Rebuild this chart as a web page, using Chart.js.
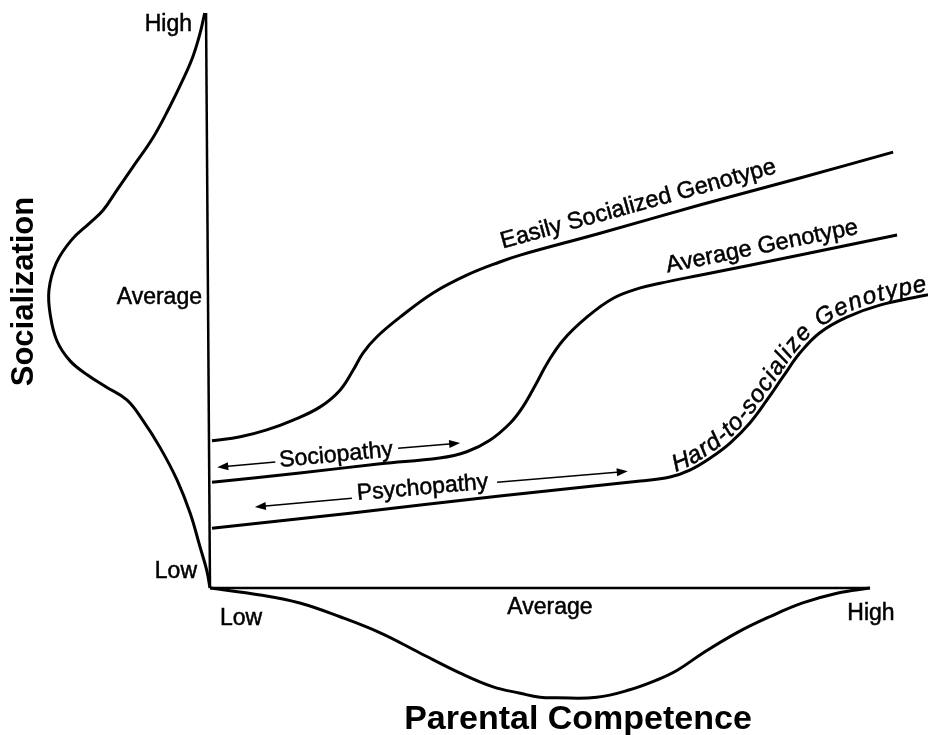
<!DOCTYPE html>
<html><head><meta charset="utf-8">
<script src="https://cdn.jsdelivr.net/npm/chart.js@4"></script>
<style>html,body{margin:0;padding:0;background:#fff}canvas{display:block}</style>
</head><body>
<canvas id="c" width="928" height="735"></canvas>
<script>
// ---------------- DATA ----------------
// x: Parental Competence (0 = Low, 50 = Average, 100 = High)
// y: Socialization       (0 = Low, 50 = Average, 100 = High)
const levelLabels = ['Low', 'Average', 'High'];
const levelValues = [0, 50, 100];

// Easily Socialized Genotype
const easyX = [0.3, 4.6, 8.6, 12.6, 16.7, 19.7, 21.7, 23.2, 25.3, 28.8, 33.8, 38.9, 43.9, 47.0, 59.1, 74.2, 89.4, 103.5];
const easyY = [25.6, 26.3, 27.5, 29.2, 31.5, 34.4, 37.9, 40.9, 43.7, 47.1, 51.3, 54.4, 56.7, 57.9, 61.7, 66.6, 71.3, 75.8];

// Average Genotype
const avgX = [0.3, 13.6, 25.8, 34.8, 38.9, 42.4, 45.5, 47.4, 49.5, 51.1, 53.5, 57.1, 61.1, 65.2, 68.2, 74.2, 89.4, 104.1];
const avgY = [18.4, 20.0, 21.6, 22.6, 23.7, 25.7, 28.7, 31.5, 35.7, 39.1, 43.1, 47.1, 50.4, 52.2, 53.0, 54.4, 57.9, 61.4];

// Hard-to-socialize Genotype
const hardX = [0.3, 21.2, 43.9, 65.2, 69.7, 72.7, 75.8, 78.8, 81.8, 84.4, 86.8, 89.4, 92.4, 96.5, 101.5, 108.8];
const hardY = [10.4, 13.0, 16.0, 18.6, 19.3, 20.5, 22.6, 25.2, 28.7, 32.7, 36.7, 40.9, 44.4, 47.1, 49.2, 51.0];

// Distribution of Socialization (drawn to the left of the vertical axis; x = -density)
const socDistY = [100, 96.5, 92.4, 88.4, 83.7, 78.4, 73.2, 69.2, 65.7, 63.5, 60.5, 56.5, 51.8, 47.5, 43.0, 39.5, 37.0, 35.0, 32.7, 29.2, 24.5, 18.8, 13.0, 7.1, 3.1, 0];
const socDistX = [-0.8, -1.5, -2.6, -4.1, -6.1, -8.6, -11.7, -14.1, -16.2, -18.2, -21.0, -23.3, -24.4, -24.2, -23.2, -21.2, -18.5, -15.8, -12.6, -10.2, -7.6, -5.0, -3.0, -1.5, -0.5, 0];

// Distribution of Parental Competence (drawn below the horizontal axis; y = -density)
const parDistX = [0, 7.6, 13.6, 19.7, 25.8, 31.8, 37.9, 42.9, 47.0, 50.0, 52.6, 58.6, 63.6, 67.7, 70.8, 74.7, 79.8, 84.8, 89.8, 95.0, 100];
const parDistY = [0, -1.2, -2.6, -5.0, -7.8, -11.3, -14.8, -17.2, -18.3, -19.0, -19.1, -19.0, -17.7, -16.0, -14.3, -11.3, -7.8, -5.0, -2.6, -0.9, 0];

// Axis lines
const xAxisX = [0, 100];  const xAxisY = [0, 0];
const yAxisX = [0, -0.6]; const yAxisY = [0, 100];

// Range annotations (arrows) in data units
const sociopathyLeft  = [[9.9, 21.9], [1.1, 21.0]];
const sociopathyRight = [[28.5, 24.3], [37.9, 25.2]];
const psychopathyLeft  = [[21.5, 15.6], [6.8, 14.1]];
const psychopathyRight = [[43.5, 18.4], [63.3, 20.3]];

// ---------------- LAYOUT / STYLE ----------------
const FONT = '"Liberation Sans", Arial, Helvetica, sans-serif';
const toPts = (xs, ys) => xs.map((x, i) => ({x, y: ys[i]}));

const curveStyle = {showLine: true, pointRadius: 0, borderColor: '#000', backgroundColor: '#000', fill: false};

const labelsPlugin = {
  id: 'labels',
  afterDatasetsDraw(chart) {
    const ctx = chart.ctx;
    const sx = chart.scales.x, sy = chart.scales.y;
    const px = v => sx.getPixelForValue(v), py = v => sy.getPixelForValue(v);
    ctx.save();
    ctx.fillStyle = '#000'; ctx.strokeStyle = '#000';
    const txt = (s, x, y) => { ctx.lineWidth = 0.5; ctx.fillText(s, x, y); ctx.strokeText(s, x, y); };

    // y-axis level labels
    ctx.font = '23px ' + FONT;
    ctx.textAlign = 'right'; ctx.textBaseline = 'alphabetic';
    const yOff = [-10, 3, 18];
    const yRight = [197, 202, 192];
    levelValues.forEach((v, i) => txt(levelLabels[i], px(0) - (210 - yRight[i]), py(v) + yOff[i]));
    // x-axis level labels
    const xBase = [37, 26, 32];
    ctx.textAlign = 'left';   txt(levelLabels[0], px(0) + 10, py(0) + xBase[0]);
    ctx.textAlign = 'center'; txt(levelLabels[1], px(50) + 10, py(0) + xBase[1]);
    ctx.textAlign = 'center'; txt(levelLabels[2], px(100) + 1, py(0) + xBase[2]);

    // axis titles
    ctx.font = 'bold 34px ' + FONT;
    ctx.textAlign = 'center';
    ctx.fillText('Parental Competence', px(50) + 38, py(0) + 141);
    ctx.save();
    ctx.font = 'bold 31px ' + FONT;
    ctx.translate(px(0) - 177, py(50) - 9);
    ctx.rotate(-Math.PI / 2);
    ctx.fillText('Socialization', 0, 0);
    ctx.restore();

    // arrows
    const arrow = (seg) => {
      const [a, b] = seg;
      const x1 = px(a[0]), y1 = py(a[1]), x2 = px(b[0]), y2 = py(b[1]);
      const ang = Math.atan2(y2 - y1, x2 - x1);
      ctx.lineWidth = 1.5;
      ctx.beginPath(); ctx.moveTo(x1, y1);
      ctx.lineTo(x2 - 8 * Math.cos(ang), y2 - 8 * Math.sin(ang)); ctx.stroke();
      ctx.beginPath();
      ctx.moveTo(x2, y2);
      ctx.lineTo(x2 - 11 * Math.cos(ang) + 4 * Math.sin(ang), y2 - 11 * Math.sin(ang) - 4 * Math.cos(ang));
      ctx.lineTo(x2 - 11 * Math.cos(ang) - 4 * Math.sin(ang), y2 - 11 * Math.sin(ang) + 4 * Math.cos(ang));
      ctx.closePath(); ctx.fill();
    };
    [sociopathyLeft, sociopathyRight, psychopathyLeft, psychopathyRight].forEach(arrow);

    const rotText = (s, x, y, angDeg, font) => {
      ctx.save(); ctx.font = font; ctx.textAlign = 'center'; ctx.textBaseline = 'alphabetic';
      ctx.translate(x, y); ctx.rotate(angDeg * Math.PI / 180); txt(s, 0, 0); ctx.restore();
    };
    rotText('Sociopathy', px(19.2), py(22.0), -5.5, '23px ' + FONT);
    rotText('Psychopathy', px(32.3), py(16.3), -5, '23px ' + FONT);

    // labels along straight part of curves
    const alongLine = (xs, ys, i0, i1, cx, off, s, font) => {
      const x1 = px(xs[i0]), y1 = py(ys[i0]), x2 = px(xs[i1]), y2 = py(ys[i1]);
      const ang = Math.atan2(y2 - y1, x2 - x1);
      const X = px(cx), t = (X - x1) / (x2 - x1), Y = y1 + t * (y2 - y1);
      ctx.save(); ctx.font = font; ctx.textAlign = 'center'; ctx.textBaseline = 'alphabetic';
      ctx.translate(X, Y); ctx.rotate(ang); txt(s, 0, -off); ctx.restore();
    };
    alongLine(easyX, easyY, 13, 17, 65.6, 11, 'Easily Socialized Genotype', '23.5px ' + FONT);
    alongLine(avgX, avgY, 15, 17, 84.1, 9, 'Average Genotype', '23.5px ' + FONT);

    // text on the curved Hard-to-socialize line
    const meta = chart.getDatasetMeta(2);
    const pts = meta.data;
    const path = [];
    for (let i = 0; i < pts.length - 1; i++) {
      const a = pts[i], b = pts[i + 1];
      const c1x = a.cp2x ?? a.x, c1y = a.cp2y ?? a.y, c2x = b.cp1x ?? b.x, c2y = b.cp1y ?? b.y;
      for (let k = 0; k < 30; k++) {
        const t = k / 30, u = 1 - t;
        path.push([
          u*u*u*a.x + 3*u*u*t*c1x + 3*u*t*t*c2x + t*t*t*b.x,
          u*u*u*a.y + 3*u*u*t*c1y + 3*u*t*t*c2y + t*t*t*b.y]);
      }
    }
    path.push([pts[pts.length - 1].x, pts[pts.length - 1].y]);
    const cum = [0];
    for (let i = 1; i < path.length; i++) cum.push(cum[i - 1] + Math.hypot(path[i][0] - path[i - 1][0], path[i][1] - path[i - 1][1]));
    const atLen = s => {
      let i = 1; while (i < cum.length - 1 && cum[i] < s) i++;
      const t = (s - cum[i - 1]) / ((cum[i] - cum[i - 1]) || 1);
      return [path[i - 1][0] + t * (path[i][0] - path[i - 1][0]), path[i - 1][1] + t * (path[i][1] - path[i - 1][1])];
    };
    const lenAtX = X => { let i = 0; while (i < path.length - 1 && path[i][0] < X) i++; return cum[i]; };
    const label = 'Hard-to-socialize Genotype';
    ctx.font = 'italic 24px ' + FONT;
    ctx.textAlign = 'center'; ctx.textBaseline = 'alphabetic';
    const chars = [...label];
    const widths = chars.map(c => ctx.measureText(c).width);
    const total = widths.reduce((a, b) => a + b, 0);
    const s0 = lenAtX(px(69.5)), s1 = lenAtX(px(108.6));
    const gap = Math.min(1.2, (s1 - s0 - total) / (chars.length - 1));
    let s = s1 - total - gap * (chars.length - 1);
    chars.forEach((c, i) => {
      const mid = s + widths[i] / 2;
      const p = atLen(mid), pa = atLen(mid - 6), pb = atLen(mid + 6);
      const ang = Math.atan2(pb[1] - pa[1], pb[0] - pa[0]);
      ctx.save(); ctx.translate(p[0], p[1]); ctx.rotate(ang); txt(c, 0, -4); ctx.restore();
      s += widths[i] + gap;
    });
    ctx.restore();
  }
};

new Chart(document.getElementById('c'), {
  type: 'scatter',
  data: {
    datasets: [
      {label: 'Easily Socialized Genotype', data: toPts(easyX, easyY), ...curveStyle, borderWidth: 3, tension: 0.4},
      {label: 'Average Genotype', data: toPts(avgX, avgY), ...curveStyle, borderWidth: 3, tension: 0.4},
      {label: 'Hard-to-socialize Genotype', data: toPts(hardX, hardY), ...curveStyle, borderWidth: 3, tension: 0.4},
      {label: 'Socialization distribution', data: toPts(socDistX, socDistY), ...curveStyle, borderWidth: 3, tension: 0.4},
      {label: 'Parental competence distribution', data: toPts(parDistX, parDistY), ...curveStyle, borderWidth: 3, tension: 0.4},
      {label: 'x axis', data: toPts(xAxisX, xAxisY), ...curveStyle, borderWidth: 2.5, tension: 0},
      {label: 'y axis', data: toPts(yAxisX, yAxisY), ...curveStyle, borderWidth: 2.5, tension: 0}
    ]
  },
  options: {
    responsive: false,
    animation: false,
    layout: {padding: 0},
    plugins: {legend: {display: false}, tooltip: {enabled: false}},
    scales: {
      x: {type: 'linear', display: false, min: -31.818, max: 108.788},
      y: {type: 'linear', display: false, min: -25.565, max: 102.261}
    }
  },
  plugins: [labelsPlugin]
});
</script>
</body></html>
